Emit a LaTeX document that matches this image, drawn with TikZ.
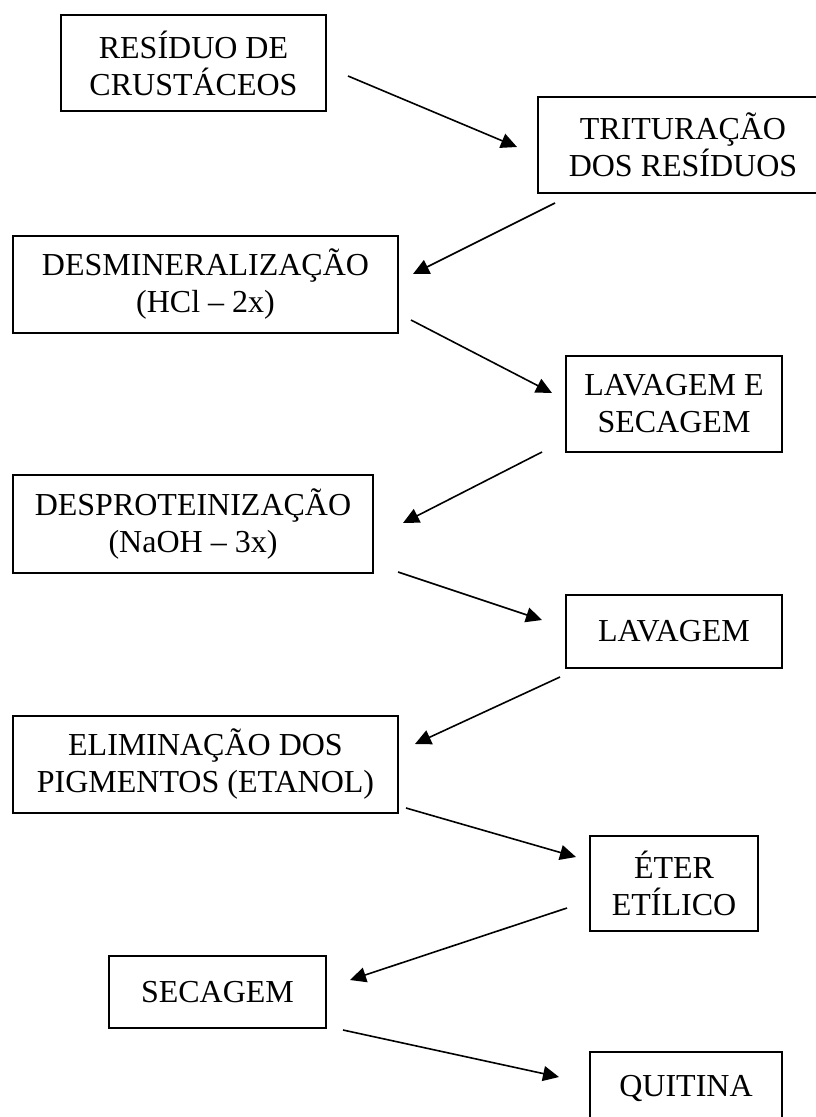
\documentclass[tikz,border=0pt]{standalone}
\usepackage{fontspec}
\setmainfont{Liberation Serif}
\usetikzlibrary{arrows.meta}
\begin{document}
\begin{tikzpicture}[x=1pt,y=-1pt,
  box/.style={draw, line width=1.3pt, inner sep=0pt, align=center,
    font=\fontsize{32}{37}\selectfont},
  arr/.style={line width=1.6pt, -{Triangle[length=16pt,width=15pt]}}]
\useasboundingbox (0,0) rectangle (816,1117);
\node[box, minimum width=265pt, minimum height=96pt] (b1) at (193.5,63) {RESÍDUO DE\\CRUSTÁCEOS};
\node[box, minimum width=290pt, minimum height=96pt] (b2) at (683,145) {TRITURAÇÃO\\DOS RESÍDUOS};
\node[box, minimum width=385pt, minimum height=97pt] (b3) at (205.5,284.5) {DESMINERALIZAÇÃO\\(HCl – 2x)};
\node[box, minimum width=216pt, minimum height=96pt] (b4) at (674,404) {LAVAGEM E\\SECAGEM};
\node[box, minimum width=360pt, minimum height=98pt] (b5) at (193,524) {DESPROTEINIZAÇÃO\\(NaOH – 3x)};
\node[box, minimum width=216pt, minimum height=73pt] (b6) at (674,631.5) {LAVAGEM};
\node[box, minimum width=385pt, minimum height=97pt] (b7) at (205.5,764.5) {ELIMINAÇÃO DOS\\PIGMENTOS (ETANOL)};
\node[box, minimum width=168pt, minimum height=95pt] (b8) at (674,883.5) {ÉTER\\ETÍLICO};
\node[box, minimum width=217pt, minimum height=72pt] (b9) at (217.5,992) {SECAGEM};
\node[box, minimum width=192pt, minimum height=73pt] (b10) at (686,1088.5) {QUITINA};
\coordinate (a1s) at (348,76);   \coordinate (a1e) at (517,147);
\coordinate (a2s) at (555,203);  \coordinate (a2e) at (413,274);
\coordinate (a3s) at (411,320);  \coordinate (a3e) at (552,393);
\coordinate (a4s) at (542,452);  \coordinate (a4e) at (403,523);
\coordinate (a5s) at (398,572);  \coordinate (a5e) at (542,620);
\coordinate (a6s) at (560,677);  \coordinate (a6e) at (415,744);
\coordinate (a7s) at (406,808);  \coordinate (a7e) at (576,857);
\coordinate (a8s) at (567,908);  \coordinate (a8e) at (350,980);
\coordinate (a9s) at (343,1030); \coordinate (a9e) at (559,1077);
\foreach \i in {1,...,9} { \draw[arr] (a\i s) -- (a\i e); }
\end{tikzpicture}
\end{document}
